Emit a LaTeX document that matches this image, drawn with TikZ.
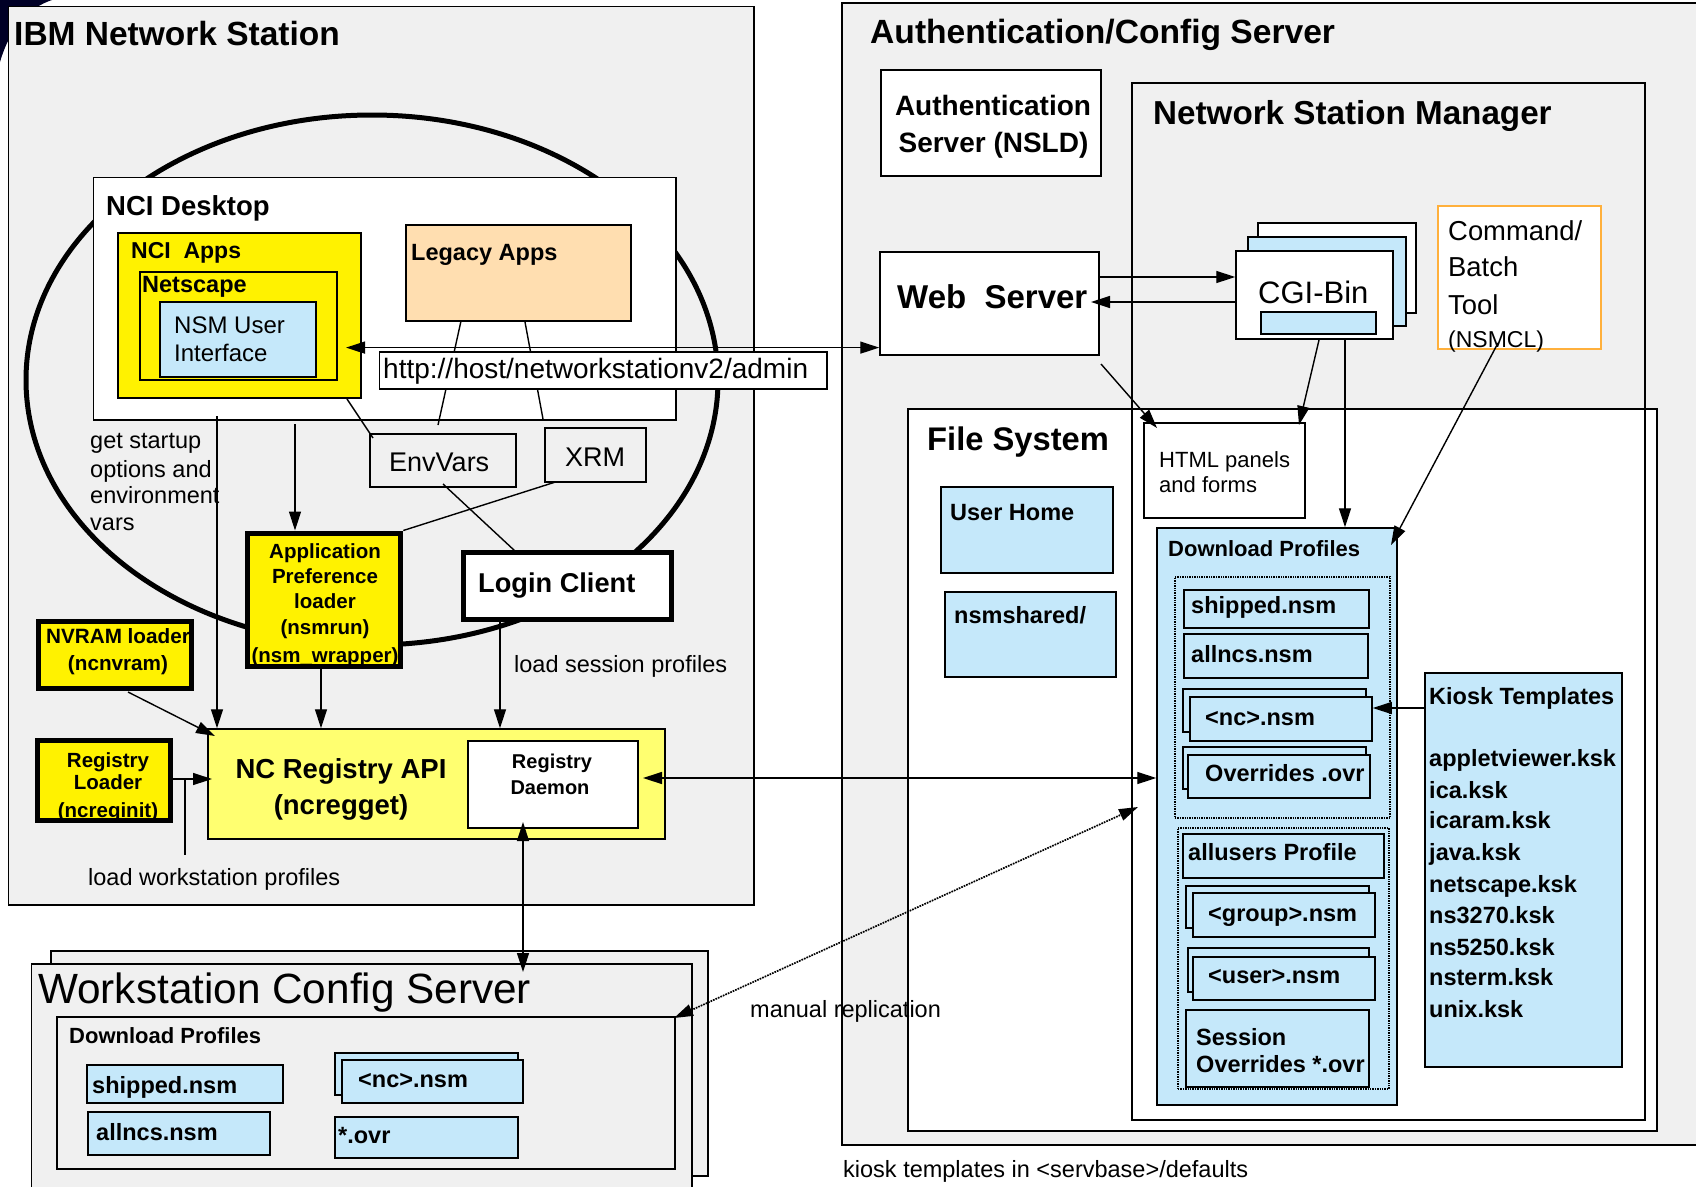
\documentclass[tikz,border=0pt]{standalone}
\usepackage{fontspec}
\setmainfont{Liberation Sans}
\usetikzlibrary{fit,arrows.meta}
\definecolor{bg}{RGB}{240,240,240}
\definecolor{lblue}{RGB}{197,232,250}
\definecolor{lyel}{RGB}{255,255,112}
\definecolor{peach}{RGB}{255,222,176}
\definecolor{orng}{RGB}{255,176,60}
\newcommand\myfs[1]{\fontsize{#1}{#1}\selectfont}
\tikzset{
  box/.style={draw=black, line width=1.5pt, inner sep=0pt},
  tbox/.style={draw=black, line width=5pt, inner sep=0pt},
  lbl/.style={inner sep=0pt, anchor=base west},
  lblc/.style={inner sep=0pt, anchor=base},
  ln/.style={line width=1.4pt},
  arr/.style={line width=1.4pt, -{Triangle[length=19pt,width=12pt]}},
  darr/.style={line width=1.4pt, {Triangle[length=19pt,width=12pt]}-{Triangle[length=19pt,width=12pt]}},
  sm/.style={font=\myfs{23.5}},
  smb/.style={font=\myfs{23.5}\bfseries},
}
\begin{document}
\begin{tikzpicture}[x=1pt,y=-1pt]
\useasboundingbox (0,0) rectangle (1696,1186);
\fill[white] (0,0) rectangle (1696,1186);
\fill[black!85!blue] (0,0) -- (52,0) .. controls (28,8) and (10,28) .. (0,62) -- cycle;

% ---------------- IBM Network Station ----------------
\node[box, fill=bg, fit={(8.7,6.5)(754,905)}] (ibm) {};
\node[lbl, font=\myfs{33.5}\bfseries] (ibmT) at (14,45) {IBM Network Station};
\draw[line width=5pt] (372,380) ellipse [x radius=346pt, y radius=265pt];

\node[box, fill=white, fit={(93.6,177.7)(676,420)}] (ncid) {};
\node[lbl, font=\myfs{27.5}\bfseries] (ncidT) at (106,215) {NCI Desktop};
\node[box, fill=yellow, fit={(117.8,233)(361,398)}] (nciapps) {};
\node[lbl, font=\myfs{23}\bfseries] (nciappsT) at (131,258.5) {NCI\ \ Apps};
\node[box, fill=yellow, fit={(140,272)(337,380)}] (netsc) {};
\node[lbl, smb] (netscT) at (142,292.5) {Netscape};
\node[box, fill=lblue, fit={(160,302)(316,377)}] (nsmui) {};
\node[lbl, font=\myfs{24}] (nsmuiT1) at (174,333.5) {NSM User};
\node[lbl, font=\myfs{24}] (nsmuiT2) at (174,361) {Interface};
\node[box, fill=peach, fit={(406,225)(631,321)}] (legacy) {};
\node[lbl, smb] (legacyT) at (411,260.7) {Legacy Apps};

\node[box, fit={(370,434)(516,487)}] (envv) {};
\node[lbl, font=\myfs{27}] (envvT) at (389,471.5) {EnvVars};
\node[box, fit={(545,428)(646,482)}] (xrm) {};
\node[lbl, font=\myfs{27}] (xrmT) at (565,466.7) {XRM};

\coordinate (lg1) at (461,321);
\coordinate (lg2) at (525,322);
\draw[ln] (lg1) -- (438,425);
\draw[ln] (lg2) -- (543,419);
\draw[ln] (347,399) -- (373,438);

\node[box, fill=white, fit={(379.5,352)(827,389)}] (url) {};
\node[lbl, font=\myfs{28}] (urlT) at (383,378.6) {http://host/networkstationv2/admin};

\node[lbl, sm] (gs1) at (90,448) {get startup};
\node[lbl, sm] (gs2) at (90,477) {options and};
\node[lbl, sm] (gs3) at (90,503.7) {environment};
\node[lbl, sm] (gs4) at (90,530.5) {vars};

\node[tbox, fill=yellow, fit={(247.3,533)(400.8,666.5)}] (apl) {};
\begin{scope}[every node/.style={lblc, font=\myfs{20.5}\bfseries}]
\node (aplT1) at (325,558.5) {Application};
\node (aplT2) at (325,583) {Preference};
\node (aplT3) at (325,608) {loader};
\node (aplT4) at (325,634) {(nsmrun)};
\node (aplT5) at (325,662) {(nsm\_wrapper)};
\end{scope}
\draw[ln] (xrm.south west) ++(12,-1) -- (apl.north east);
\draw[ln] (443,484) -- (515,551);

\node[tbox, fill=white, fit={(463,552.5)(671.5,619.5)}] (login) {};
\node[lbl, font=\myfs{27.2}\bfseries] (loginT) at (478,592) {Login Client};
\node[lbl, sm] (lsp) at (514,672) {load session profiles};

\node[tbox, fill=yellow, fit={(38.5,621)(191.5,688.5)}] (nvram) {};
\node[lblc, font=\myfs{20.7}\bfseries] (nvT1) at (118,643) {NVRAM loader};
\node[lblc, font=\myfs{20.7}\bfseries] (nvT2) at (118,670) {(ncnvram)};

\node[tbox, fill=yellow, fit={(37.5,740.5)(170.5,820.5)}] (rldr) {};
\node[lblc, font=\myfs{20.5}\bfseries] (rlT1) at (108,767) {Registry};
\node[lblc, font=\myfs{20.5}\bfseries] (rlT2) at (108,789) {Loader};
\node[lblc, font=\myfs{20.5}\bfseries] (rlT3) at (108,817) {(ncreginit)};

\node[box, fill=lyel, fit={(208,729)(665,839)}] (api) {};
\node[lblc, font=\myfs{27.5}\bfseries] (apiT1) at (341,778) {NC Registry API};
\node[lblc, font=\myfs{27.5}\bfseries] (apiT2) at (341,814) {(ncregget)};
\node[box, fill=white, fit={(468,741)(638,828)}] (daemon) {};
\node[lblc, font=\myfs{20}\bfseries] (dT1) at (552,768) {Registry};
\node[lblc, font=\myfs{20}\bfseries] (dT2) at (550,794) {Daemon};

\node[lbl, sm] (lwp) at (88,885) {load workstation profiles};

\draw[arr] (217,416) -- (api.north -| 217,0);
\draw[arr] (295,424) -- (apl.north -| 295,0);
\draw[arr] (128,692) -- (215,736);
\draw[arr] (rldr.east |- 0,779) -- (212,779);
\draw[ln] (185,779) -- (185,855);
\draw[arr] (apl.south -| 321,0) -- (api.north -| 321,0);
\draw[arr] (login.south -| 500,0) -- (api.north -| 500,0);

% ---------------- Workstation Config Server ----------------
\node[box, fill=bg, fit={(51,951)(708,1176)}] (wcsb) {};
\node[box, fill=bg, fit={(31.7,964)(692,1200)}] (wcs) {};
\node[lbl, font=\myfs{42.3}] (wcsT) at (38,1003) {Workstation Config Server};
\node[box, fill=bg, fit={(57,1017)(675,1169)}] (wdp) {};
\node[lbl, font=\myfs{22}\bfseries] (wdpT) at (69,1043) {Download Profiles};
\node[box, fill=lblue, fit={(87,1065)(283,1103)}] (wship) {};
\node[lbl, smb] (wshipT) at (92,1093) {shipped.nsm};
\node[box, fill=lblue, fit={(88,1112)(270,1155)}] (wall) {};
\node[lbl, smb] (wallT) at (96,1140) {allncs.nsm};
\node[box, fill=lblue, fit={(335,1053)(518,1095)}] (wncb) {};
\node[box, fill=lblue, fit={(342,1060)(523,1103)}] (wnc) {};
\node[lbl, smb] (wncT) at (358,1087) {\textless nc\textgreater.nsm};
\node[box, fill=lblue, fit={(335,1117)(518,1158)}] (wovr) {};
\node[lbl, smb] (wovrT) at (338,1143) {*.ovr};

% ---------------- Authentication/Config Server ----------------
\node[box, fill=bg, fit={(842,3)(1712,1145)}] (acs) {};
\node[lbl, font=\myfs{33.6}\bfseries] (acsT) at (870,43) {Authentication/Config Server};
\node[box, fill=white, fit={(881,70)(1101,176)}] (nsld) {};
\node[lblc, font=\myfs{28}\bfseries] (nsldT1) at (993,115) {Authentication};
\node[lblc, font=\myfs{28}\bfseries] (nsldT2) at (993.5,152.7) {Server (NSLD)};

\node[fill=bg, inner sep=0pt, fit={(1132,83)(1645,1120)}] (nsm) {};
\node[box, fill=white, fit={(908,409)(1657,1131)}] (fs) {};
\draw[line width=1.5pt] (nsm.north west) rectangle (nsm.south east);
\node[lbl, font=\myfs{33.2}\bfseries] (nsmT) at (1153,124) {Network Station Manager};

\node[box, fill=white, fit={(880,252)(1099,355)}] (webs) {};
\node[lbl, font=\myfs{33}\bfseries] (websT) at (897,308) {Web\ \ Server};

\node[box, fill=white, fit={(1258,223)(1416,313)}] (cgib) {};
\node[box, fill=lblue, fit={(1248,237)(1406,326)}] (cgim) {};
\node[box, fill=white, fit={(1236,251)(1393,339)}] (cgi) {};
\node[box, fill=lblue, fit={(1261,312)(1376,334)}] (cgiin) {};
\node[lbl, font=\myfs{31}] (cgiT) at (1258,303) {CGI-Bin};

\node[box, draw=orng, fill=white, fit={(1438,206)(1601,349)}] (cmd) {};
\node[lbl, font=\myfs{27.4}] (cmdT1) at (1448,240) {Command/};
\node[lbl, font=\myfs{27.4}] (cmdT2) at (1448,276.7) {Batch};
\node[lbl, font=\myfs{27.4}] (cmdT3) at (1448,314) {Tool};
\node[lbl, font=\myfs{23}] (cmdT4) at (1448,347) {(NSMCL)};

\node[lbl, font=\myfs{32.7}\bfseries] (fsT) at (927,450) {File System};
\node[box, fill=white, fit={(1144,423)(1305,518)}] (html) {};
\node[lbl, font=\myfs{22}] (htmlT1) at (1159,467) {HTML panels};
\node[lbl, font=\myfs{22}] (htmlT2) at (1159,492) {and forms};
\node[box, fill=lblue, fit={(941,487)(1113,573)}] (uhome) {};
\node[lbl, smb] (uhomeT) at (950,520) {User Home};
\node[box, fill=lblue, fit={(945,592)(1116,677)}] (nsmsh) {};
\node[lbl, smb] (nsmshT) at (954,623) {nsmshared/};

\node[box, fill=lblue, fit={(1157,528)(1397,1105)}] (dp) {};
\node[lbl, font=\myfs{22}\bfseries] (dpT) at (1168,556) {Download Profiles};
\node[inner sep=0pt, draw, densely dotted, line width=1.4pt, fit={(1175,577)(1390,818)}] (grp1) {};
\node[inner sep=0pt, draw, densely dotted, line width=1.4pt, fit={(1178,828)(1389,1089)}] (grp2) {};
\node[box, fill=lblue, fit={(1184,590)(1369,628)}] (ship) {};
\node[lbl, smb] (shipT) at (1191,613) {shipped.nsm};
\node[box, fill=lblue, fit={(1184,634)(1368,678)}] (alln) {};
\node[lbl, smb] (allnT) at (1191,662) {allncs.nsm};
\node[box, fill=lblue, fit={(1183,689)(1366,732)}] (ncb) {};
\node[box, fill=lblue, fit={(1190,697)(1372,741)}] (nc) {};
\node[lbl, smb] (ncT) at (1205,725) {\textless nc\textgreater.nsm};
\node[box, fill=lblue, fit={(1183,747)(1366,789)}] (ovrb) {};
\node[box, fill=lblue, fit={(1188,755)(1370,798)}] (ovr) {};
\node[lbl, smb] (ovrT) at (1205,781) {Overrides .ovr};
\node[box, fill=lblue, fit={(1183,834)(1384,878)}] (allu) {};
\node[lbl, smb] (alluT) at (1188,860) {allusers Profile};
\node[box, fill=lblue, fit={(1186,886)(1369,928)}] (grpb) {};
\node[box, fill=lblue, fit={(1193,893)(1375,937)}] (grp) {};
\node[lbl, smb] (grpT) at (1208,921) {\textless group\textgreater.nsm};
\node[box, fill=lblue, fit={(1188,948)(1369,992)}] (usrb) {};
\node[box, fill=lblue, fit={(1193,957)(1375,1000)}] (usr) {};
\node[lbl, smb] (usrT) at (1208,983) {\textless user\textgreater.nsm};
\node[box, fill=lblue, fit={(1186,1010)(1369,1087)}] (sess) {};
\node[lbl, smb] (sessT1) at (1196,1045) {Session};
\node[lbl, smb] (sessT2) at (1196,1072) {Overrides *.ovr};

\node[box, fill=lblue, fit={(1425,673)(1622,1067)}] (kiosk) {};
\begin{scope}[every node/.style={lbl, smb}]
\node (k0) at (1429,704) {Kiosk Templates};
\node (k1) at (1429,766.7) {appletviewer.ksk};
\node (k2) at (1429,798) {ica.ksk};
\node (k3) at (1429,828.5) {icaram.ksk};
\node (k4) at (1429,860) {java.ksk};
\node (k5) at (1429,892.5) {netscape.ksk};
\node (k6) at (1429,923.5) {ns3270.ksk};
\node (k7) at (1429,955) {ns5250.ksk};
\node (k8) at (1429,985) {nsterm.ksk};
\node (k9) at (1429,1017) {unix.ksk};
\end{scope}

% ---------------- connectors ----------------
\draw[darr] (346,347.6) -- (webs.west |- 0,347.6);
\draw[arr] (webs.east |- 0,277) -- (cgi.west |- 0,277);
\draw[arr] (cgi.west |- 0,302) -- (1091,302);
\draw[arr] (1101,364) -- (1157,428);
\draw[arr] (1319,340) -- (1299,425);
\draw[arr] (1345,338) -- (dp.north -| 1345,0);
\draw[arr] (1498,343) -- (1391,545);
\draw[arr] (kiosk.west |- 0,708) -- (nc.east |- 0,708);
\draw[darr] (643,778) -- (dp.west |- 0,778);
\draw[darr] (523,822) -- (523,972);
\draw[line width=1.7pt, densely dotted, {Triangle[length=19pt,width=12pt]}-{Triangle[length=19pt,width=12pt]}] (674,1018) -- (1138,807);

\node[lbl, sm] (manrep) at (750,1017) {manual replication};
\node[lbl, sm] (kioskdef) at (843,1177) {kiosk templates in \textless servbase\textgreater/defaults};
\end{tikzpicture}
\end{document}
